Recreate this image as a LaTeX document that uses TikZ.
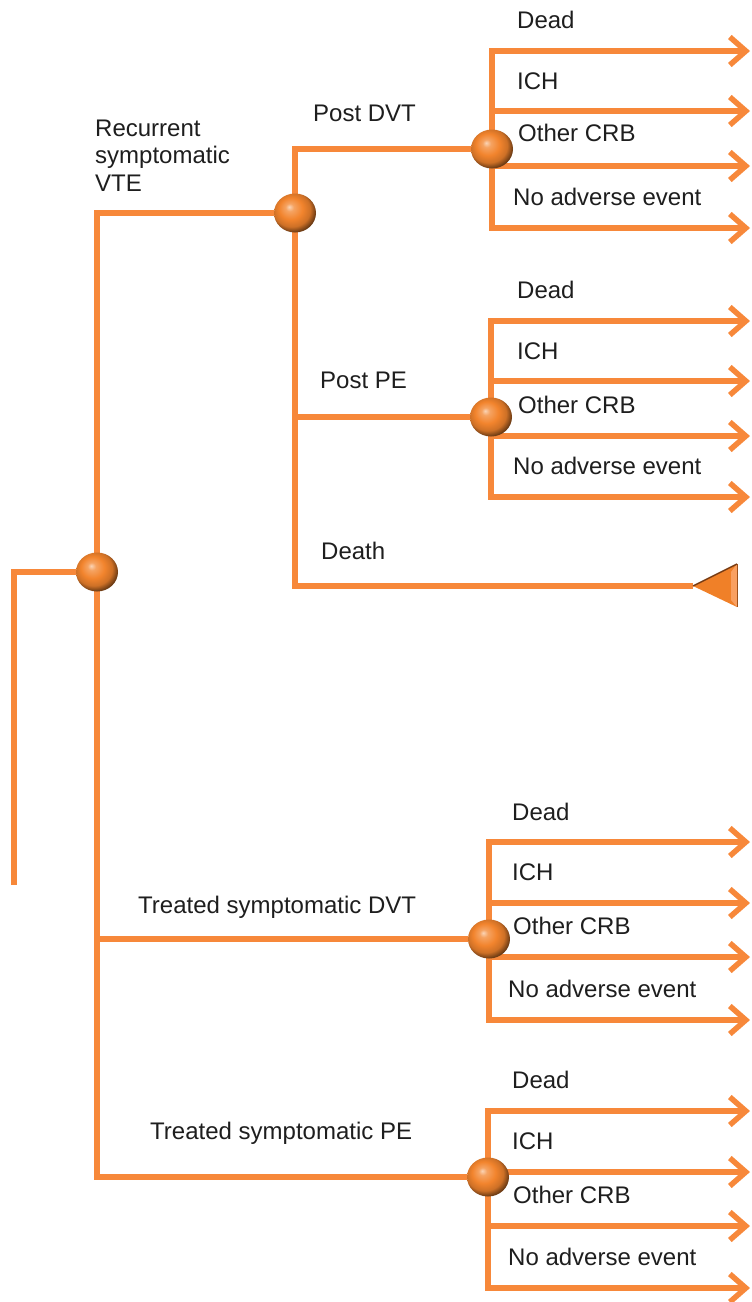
\documentclass[tikz,border=0pt]{standalone}
\usepackage{fontspec}
\setmainfont{Liberation Sans}
\usetikzlibrary{arrows.meta,shapes.geometric,backgrounds}
\definecolor{branch}{RGB}{247,136,58}
\definecolor{ballc}{RGB}{242,132,45}
\definecolor{tipfill}{RGB}{240,128,40}
\definecolor{tipdark}{RGB}{120,60,20}
\definecolor{labelc}{RGB}{30,30,30}
% glossy orange sphere for the chance nodes
\pgfdeclareradialshading{orangeball}{\pgfqpoint{-7bp}{8bp}}{%
  color(0bp)=(ballc!35!white); color(5bp)=(ballc!75!white);
  color(14bp)=(ballc); color(22bp)=(ballc!85!black);
  color(28bp)=(ballc!45!black); color(50bp)=(ballc!35!black)}
\begin{document}
\begin{tikzpicture}[x=1pt,y=-1pt,line join=miter,
  br/.style={draw=branch,line width=5.5pt},
  outarrow/.style={br,-{Straight Barb[length=16pt,width=28pt]}},
  botharrow/.style={br,{Straight Barb[length=16pt,width=28pt]}-{Straight Barb[length=16pt,width=28pt]}},
  chance/.style={ellipse,minimum width=42pt,minimum height=39pt,inner sep=0pt,shading=orangeball},
  lbl/.style={anchor=base west,inner sep=0pt,text=labelc,font=\fontsize{24}{27.5}\selectfont}]
\useasboundingbox (0,0) rectangle (752,1302);

% chance nodes
\node[chance] (c0) at (97,572) {};
\node[chance] (c1) at (295,213) {};
\node[chance] (c2) at (492,149) {};
\node[chance] (c3) at (491,417) {};
\node[chance] (c4) at (489,939) {};
\node[chance] (c5) at (488,1177) {};

% free ends
\coordinate (root) at (14,885);
\coordinate (death) at (693,586);
\foreach \n/\ya/\yb/\yc/\yd in {c2/51/111/166/228, c3/321/381/436/497,
                                c4/842/903/957/1020, c5/1111/1172/1226/1288}{
  \coordinate (\n a) at (750,\ya);
  \coordinate (\n b) at (750,\yb);
  \coordinate (\n c) at (750,\yc);
  \coordinate (\n d) at (750,\yd);
}

% branches
\begin{scope}[on background layer]
  \draw[br] (root) -- (root |- c0) -- (c0);
  \draw[br] (c1) -- (c1 -| c0) -- (c5 -| c0) -- (c5);
  \draw[br] (c0 |- c4) -- (c4);
  \draw[br] (c2) -- (c2 -| c1) -- (death -| c1) -- (death);
  \draw[br] (c1 |- c3) -- (c3);
  \foreach \n in {c2,c3,c4,c5}{
    \draw[botharrow] (\n a) -- (\n a -| \n) -- (\n d -| \n) -- (\n d);
    \draw[outarrow] (\n b -| \n) -- (\n b);
    \draw[outarrow] (\n c -| \n) -- (\n c);
  }
\end{scope}

% terminal node
\fill[tipfill] (death) -- (737,564) -- (737,607) -- cycle;
\fill[branch!80!white] (737,564) -- (731,572) -- (731,600) -- (737,607) -- cycle;
\draw[tipdark,line width=1.5pt] (death) -- (737,564);
\draw[tipdark!70!tipfill,line width=1pt] (737,564) -- (737,607);

% labels
\node[lbl] (l1a) at (95,136) {Recurrent};
\node[lbl] (l1b) at (95,163.5) {symptomatic};
\node[lbl] (l1c) at (95,191) {VTE};
\node[lbl] (l2) at (313,121) {Post DVT};
\node[lbl] (l3) at (320,388) {Post PE};
\node[lbl] (l4) at (321,559) {Death};
\node[lbl] (l5) at (138,913) {Treated symptomatic DVT};
\node[lbl] (l6) at (150,1139) {Treated symptomatic PE};

\foreach \n/\x/\ya/\yb/\yc/\yd in {c2/517/28/89/141/205, c3/517/298/359/413/474,
                                   c4/512/820/880/934/997, c5/512/1088/1149/1203/1265}{
  \node[lbl] (\n-dead) at (\x,\ya) {Dead};
  \node[lbl] (\n-ich) at (\x,\yb) {ICH};
  \node[lbl] (\n-crb) at (\x+1,\yc) {Other CRB};
  \node[lbl] (\n-none) at (\x-4,\yd) {No adverse event};
}
\end{tikzpicture}
\end{document}
